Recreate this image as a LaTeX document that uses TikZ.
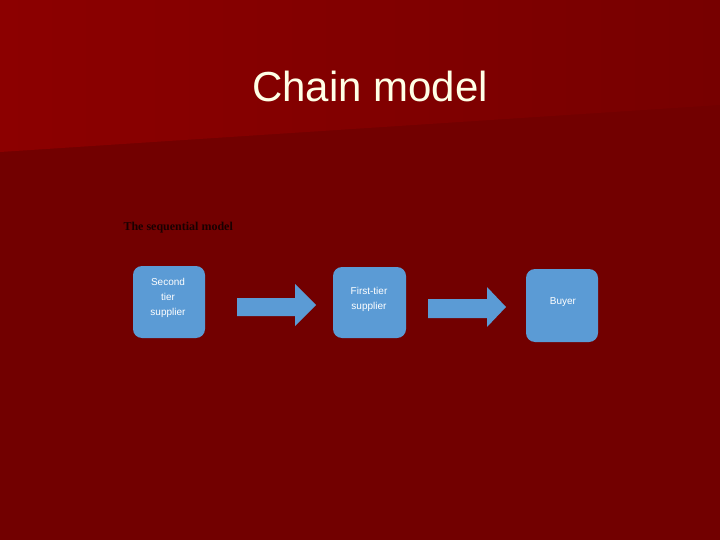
\documentclass[tikz,border=0pt]{standalone}
\usepackage{fontspec}
\setmainfont{Liberation Sans}
\newfontfamily\serifb{Liberation Serif}
\definecolor{bgtopl}{HTML}{8C0000}
\definecolor{bgtopr}{HTML}{770000}
\definecolor{bgbot}{HTML}{720000}
\definecolor{boxblue}{HTML}{5B9BD5}
\definecolor{titlecol}{HTML}{FFFFE6}
\tikzset{
  stagebox/.style={fill=boxblue, rounded corners=9pt, draw=none},
  stagetext/.style={text=white, font=\fontsize{10}{15}\selectfont, align=center},
  blockarrow/.style={fill=boxblue, draw=none}
}
\begin{document}
\begin{tikzpicture}[x=1pt,y=-1pt]
\useasboundingbox (0,0) rectangle (720,540);
\fill[bgbot] (0,0) rectangle (720,540);
\shade[left color=bgtopl, right color=bgtopr] (0,0) -- (720,0) -- (720,105) -- (0,152) -- cycle;
\node[text=titlecol, font=\fontsize{42}{48}\selectfont, anchor=base] (title) at (370,102) {Chain model};
\node[font=\serifb\bfseries\fontsize{12}{14}\selectfont, text=black!90!red, anchor=west] (lbl) at (120,228) {The sequential model};
% boxes
\fill[stagebox] (133,266) rectangle (205,338);
\node[stagetext] (b1) at (168,298) {Second\\tier\\supplier};
\fill[stagebox] (333,267) rectangle (406,338);
\node[stagetext] (b2) at (369,299) {First-tier\\supplier};
\fill[stagebox] (526,269) rectangle (598,342);
\node[stagetext] (b3) at (563,302) {Buyer};
% arrows
\fill[blockarrow] (237,298) -- (295,298) -- (295,284) -- (316,305) -- (295,326) -- (295,316) -- (237,316) -- cycle;
\fill[blockarrow] (428,299) -- (487,299) -- (487,287) -- (506,307) -- (487,327) -- (487,318) -- (428,318) -- cycle;
\end{tikzpicture}
\end{document}
